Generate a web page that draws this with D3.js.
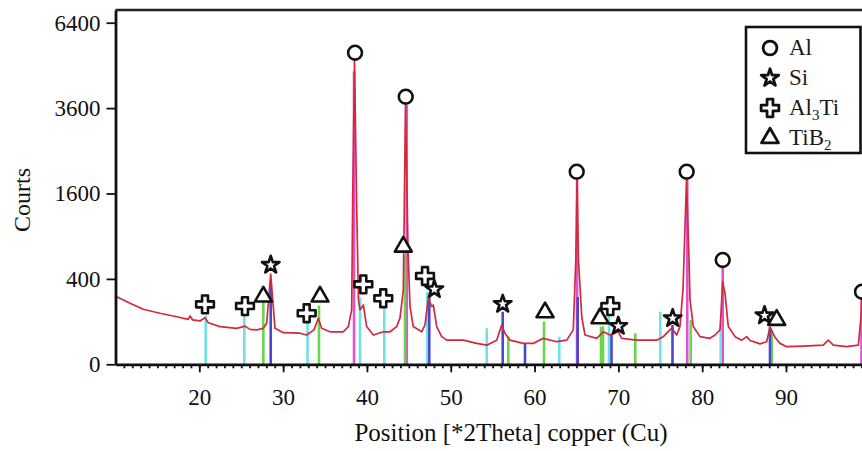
<!DOCTYPE html>
<html>
<head>
<meta charset="utf-8">
<script src="https://cdn.jsdelivr.net/npm/d3@7"></script>
<style>
  body { margin: 0; background: #fff; }
  svg { display: block; }
  svg text { font-family: "Liberation Serif", "Times New Roman", serif; }
</style>
</head>
<body>
<svg></svg>
<script>
const width = 862
const height = 451

// measured XRD profile (2theta, counts)
const profileTheta = [10.14, 11.73, 13.32, 15.31, 17.30, 18.69, 18.89, 19.21, 20.08, 20.68, 21.07, 22.47, 24.46, 25.45, 26.05, 26.85, 27.64, 28.04, 28.52, 29.03,
  30.02, 32.01, 32.81, 33.68, 34.20, 34.60, 35.59, 37.18, 37.78, 38.18, 38.30, 38.52, 38.76, 38.99, 39.17, 39.57, 39.97, 40.76, 41.95, 42.75,
  43.55, 43.95, 44.34, 44.60, 44.90, 45.14, 45.53, 46.53, 46.93, 47.32, 47.73, 47.92, 48.32, 48.92, 49.52, 51.50, 53.10, 54.29, 55.48, 56.08,
  56.47, 57.07, 58.66, 59.85, 61.04, 62.64, 63.84, 64.62, 64.92, 65.07, 65.24, 65.63, 66.02, 67.42, 68.20, 69.00, 69.99, 70.40, 72.19, 74.57,
  75.36, 76.36, 76.96, 77.35, 77.71, 78.13, 78.43, 78.55, 78.94, 79.74, 80.93, 81.53, 82.13, 82.33, 82.45, 82.72, 83.12, 83.92, 84.72, 85.31,
  85.71, 86.90, 87.70, 88.09, 88.69, 89.29, 90.09, 92.07, 94.45, 95.05, 95.65, 97.24, 98.63, 98.95, 99.31, 99.79]
const profileCounts = [251, 204, 166, 143, 124, 111, 128, 108, 103, 119, 95, 78, 71, 80, 67, 65, 71, 92, 447, 71,
  55, 53, 47, 65, 116, 71, 58, 58, 78, 162, 1481, 5083, 1481, 227, 162, 193, 78, 47, 58, 58,
  78, 118, 303, 3688, 717, 182, 78, 58, 85, 239, 182, 193, 78, 42, 32, 32, 24, 20, 32, 85,
  53, 32, 24, 24, 37, 28, 32, 65, 597, 1863, 597, 124, 47, 37, 58, 47, 58, 37, 32, 32,
  42, 72, 47, 78, 303, 1863, 597, 227, 78, 42, 37, 47, 65, 227, 374, 276, 78, 42, 32, 42,
  31, 23, 28, 76, 40, 24, 17, 18, 20, 32, 20, 17, 20, 124, 597, 900]

// reference sticks per phase
const alSticks = [[38.46, 4700], [44.75, 3688], [65.07, 1863], [78.22, 1863], [82.45, 597], [99.01, 230]]
const al3tiSticks = [[20.76, 128], [25.37, 139], [32.91, 96], [39.17, 248], [42.07, 172], [47.20, 287], [54.29, 71], [62.95, 42], [68.88, 145], [75.0, 152], [82.21, 78]]
const tib2Sticks = [[27.64, 213], [34.28, 190], [44.54, 655], [56.87, 42], [61.13, 100], [67.93, 78], [68.17, 78], [72.02, 53], [78.63, 108], [88.30, 65]]
const siSticks = [[28.52, 363], [47.44, 263], [56.20, 152], [58.86, 24], [65.15, 248], [69.18, 47], [76.46, 85], [88.09, 76]]

// phase markers (2theta, counts at marker)
const alMarks = [[38.58, 5325], [44.63, 3928], [65.03, 2034], [78.15, 2034], [82.45, 597], [99.07, 289]]
const siMarks = [[28.52, 541], [48.04, 308], [56.20, 199], [69.99, 80], [76.48, 116], [87.44, 131]]
const al3tiMarks = [[20.68, 197], [25.45, 186], [32.81, 143], [39.57, 351], [41.95, 239], [46.93, 428], [69.04, 186]]
const tib2Marks = [[27.64, 251], [34.40, 251], [44.34, 758], [61.25, 148], [67.81, 116], [88.89, 108]]

const yTicks = [0, 400, 1600, 3600, 6400]
const xTicks = [20, 30, 40, 50, 60, 70, 80, 90]
const xMinor = d3.range(11, 100)

const svg = d3.select('svg')
  .attr('width', width)
  .attr('height', height)

const x = d3.scaleLinear().domain([10, 100]).range([115.5, 869.8])
const y = d3.scaleSqrt().domain([0, 6885]).range([364.3, 10])

svg.append('clipPath').attr('id', 'plot')
  .append('rect')
  .attr('x', 115.5).attr('y', 10)
  .attr('width', 862 - 115.5).attr('height', 364.3 - 10)

const plot = svg.append('g').attr('clip-path', 'url(#plot)')

function sticks(data, color) {
  plot.append('g')
    .selectAll('line')
    .data(data)
    .enter()
    .append('line')
    .attr('x1', d => x(d[0]))
    .attr('x2', d => x(d[0]))
    .attr('y1', y(0))
    .attr('y2', d => y(d[1]))
    .attr('stroke', color)
    .attr('stroke-width', 2.6)
}

sticks(alSticks, '#e052d2')
sticks(al3tiSticks, '#6fe2e8')
sticks(tib2Sticks, '#6ad64c')
sticks(siSticks, '#4a48cc')

const line = d3.line()
  .x((d, i) => x(profileTheta[i]))
  .y(d => y(d))

plot.append('path')
  .datum(profileCounts)
  .attr('d', line)
  .attr('fill', 'none')
  .attr('stroke', '#d22a3c')
  .attr('stroke-width', 1.7)
  .attr('stroke-linejoin', 'round')

const shapes = {
  circle: d3.symbol().type(d3.symbolCircle).size(150),
  star: d3.symbol().type(d3.symbolStar).size(95),
  cross: d3.symbol().type(d3.symbolCross).size(175),
  triangle: d3.symbol().type(d3.symbolTriangle).size(125)
}

function marks(data, shape) {
  svg.append('g')
    .selectAll('path')
    .data(data)
    .enter()
    .append('path')
    .attr('transform', d => `translate(${x(d[0])},${y(d[1])})`)
    .attr('d', shapes[shape])
    .attr('fill', '#fff')
    .attr('stroke', '#111')
    .attr('stroke-width', 2.6)
    .attr('stroke-linejoin', 'round')
}

marks(alMarks, 'circle')
marks(siMarks, 'star')
marks(al3tiMarks, 'cross')
marks(tib2Marks, 'triangle')

// frame
svg.append('line')
  .attr('x1', 115.5).attr('x2', 862)
  .attr('y1', 10).attr('y2', 10)
  .attr('stroke', '#222').attr('stroke-width', 2.6)

const xMinorAxis = svg.append('g')
  .attr('transform', 'translate(0,364.3)')
  .call(d3.axisBottom(x).tickValues(xMinor).tickSize(4).tickFormat('').tickSizeOuter(0))
xMinorAxis.select('.domain').remove()

const xAxis = svg.append('g')
  .attr('transform', 'translate(0,364.3)')
  .call(d3.axisBottom(x).tickValues(xTicks).tickSize(8).tickPadding(16).tickSizeOuter(0))

const yAxis = svg.append('g')
  .attr('transform', 'translate(115.5,0)')
  .call(d3.axisLeft(y).tickValues(yTicks).tickFormat(d3.format('d')).tickSize(9).tickPadding(6).tickSizeOuter(0))

svg.selectAll('.tick line').attr('stroke', '#111').attr('stroke-width', 1.8)
svg.selectAll('.domain').attr('stroke', '#111').attr('stroke-width', 2.8)
xAxis.attr('font-family', null)
yAxis.attr('font-family', null)
svg.selectAll('.tick text')
  .attr('font-size', 23)
  .attr('fill', '#111')

svg.append('text')
  .attr('x', 511)
  .attr('y', 441)
  .attr('text-anchor', 'middle')
  .attr('font-size', 25)
  .attr('fill', '#111')
  .text('Position [*2Theta] copper (Cu)')

svg.append('text')
  .attr('transform', 'translate(30,200) rotate(-90)')
  .attr('text-anchor', 'middle')
  .attr('font-size', 24)
  .attr('fill', '#111')
  .text('Courts')

// legend
const legendNames = [['Al', null, ''], ['Si', null, ''], ['Al', '3', 'Ti'], ['TiB', '2', '']]
const legendShapes = ['circle', 'star', 'cross', 'triangle']

const legend = svg.append('g')
legend.append('rect')
  .attr('x', 746).attr('y', 27)
  .attr('width', 114.5).attr('height', 126)
  .attr('fill', '#fff')
  .attr('stroke', '#111')
  .attr('stroke-width', 2.6)

legendNames.forEach((n, i) => {
  legend.append('path')
    .attr('transform', `translate(770,${48 + i * 30})`)
    .attr('d', shapes[legendShapes[i]])
    .attr('fill', '#fff')
    .attr('stroke', '#111')
    .attr('stroke-width', 2.8)
    .attr('stroke-linejoin', 'round')
  const t = legend.append('text')
    .attr('x', 789)
    .attr('y', 55 + i * 30)
    .attr('font-size', 23)
    .attr('fill', '#1a1a1a')
  t.append('tspan').text(n[0])
  if (n[1]) {
    t.append('tspan').attr('dy', 5).attr('font-size', 15).text(n[1])
    if (n[2]) t.append('tspan').attr('dy', -5).text(n[2])
  }
})
</script>
</body>
</html>
